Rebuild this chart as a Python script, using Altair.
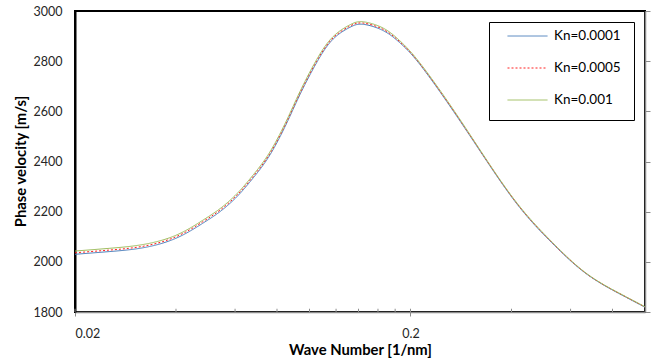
import altair as alt
import pandas as pd

# Wave number [1/nm]
wave_number = [0.02, 0.0254, 0.0319, 0.04, 0.0481, 0.0541, 0.0608, 0.0678, 0.0762,
               0.0856, 0.0936, 0.105, 0.1176, 0.132, 0.1445, 0.1657, 0.186, 0.213,
               0.268, 0.337, 0.423, 0.532, 0.669, 0.841, 1.0]

# Phase velocity [m/s]
kn_0001 = [2030, 2041, 2056, 2094, 2154, 2200, 2260, 2333, 2426, 2554, 2666, 2794, 2888,
           2935, 2947, 2922, 2873, 2788, 2602, 2403, 2217, 2071, 1952, 1872, 1819]
kn_0005 = [2036, 2047, 2062, 2100, 2160, 2206, 2266, 2339, 2432, 2560, 2672, 2800, 2893,
           2940, 2952, 2927, 2877, 2791, 2605, 2405, 2219, 2073, 1953, 1873, 1820]
kn_001 = [2043, 2054, 2069, 2106, 2166, 2212, 2272, 2345, 2438, 2566, 2678, 2806, 2898,
          2945, 2957, 2932, 2881, 2794, 2608, 2407, 2221, 2075, 1954, 1874, 1821]

series_names = ["Kn=0.0001", "Kn=0.0005", "Kn=0.001"]
series_colors = ["#4A7EBB", "#FF2020", "#9BBB59"]
series_dash = [[1, 0], [2, 2], [1, 0]]

minor_ticks = [0.02, 0.04, 0.06, 0.08, 0.1, 0.12, 0.14, 0.16, 0.18, 0.2, 0.4, 0.6, 0.8]
y_ticks = [1800, 2000, 2200, 2400, 2600, 2800, 3000]

rows = []
for name, vals in zip(series_names, [kn_0001, kn_0005, kn_001]):
    for k, v in zip(wave_number, vals):
        rows.append({"k": k, "v": v, "series": name})
df = pd.DataFrame(rows)
ticks_df = pd.DataFrame({"t": minor_ticks})

FONT = "Lato"

x_scale = alt.Scale(type="log", domain=[0.02, 1.0], nice=False)
y_scale = alt.Scale(domain=[1800, 3000], nice=False)

x_axis = alt.Axis(
    values=[0.02, 0.2], format="~g", title="Wave Number [1/nm]",
    titleFont=FONT, titleFontSize=14.8, titleFontWeight="bold", titleColor="#000000",
    titleY=38, titleBaseline="middle",
    labelFont=FONT, labelFontSize=12.5, labelColor="#262626", labelPadding=11,
    tickSize=4, tickColor="#8C8C8C", domainColor="#8C8C8C", domainWidth=1.5,
    grid=False,
)

legend_def = alt.Legend(
    title=None, orient="none", legendX=414, legendY=11,
    symbolType="stroke", symbolSize=1600, symbolStrokeWidth=1, symbolOffset=5,
    clipHeight=2, rowPadding=18, padding=13, labelOffset=6,
    labelFont=FONT, labelFontSize=13.5, labelColor="#000000",
    strokeColor="#000000", fillColor="#FFFFFF",
)

lines = alt.Chart(df).mark_line(strokeWidth=1, interpolate="natural").encode(
    x=alt.X("k:Q", scale=x_scale, axis=x_axis),
    y=alt.Y("v:Q", scale=y_scale, axis=alt.Axis(
        values=y_ticks, format="d", title="Phase velocity [m/s]",
        titleFont=FONT, titleFontSize=14.8, titleFontWeight="bold", titleColor="#000000",
        titleAngle=-90, titleX=-54, titleY=150, titleAlign="center", titleBaseline="middle",
        labelFont=FONT, labelFontSize=12.5, labelColor="#262626",
        ticks=False, tickSize=0, labelPadding=13,
        domainColor="#000000", domainWidth=2, grid=False,
    )),
    color=alt.Color("series:N", scale=alt.Scale(domain=series_names, range=series_colors),
                    legend=legend_def),
    strokeDash=alt.StrokeDash("series:N", scale=alt.Scale(domain=series_names, range=series_dash),
                              legend=legend_def),
    order=alt.Order("series:N"),
)

tick_rules = alt.Chart(ticks_df).mark_rule(color="#8C8C8C", strokeWidth=1).encode(
    x=alt.X("t:Q", scale=x_scale, axis=x_axis),
    y=alt.Y(datum=1800, scale=y_scale, axis=alt.Axis(
        orient="right", values=y_ticks, labels=False, title=None, tickSize=5,
        tickColor="#8C8C8C", domainColor="#8C8C8C", domainWidth=1.5, grid=False,
    )),
    y2=alt.Y2(datum=1813),
)

chart = alt.layer(lines, tick_rules).resolve_axis(y="independent").properties(
    width=570, height=301,
    autosize=alt.AutoSizeParams(type="none"),
    padding={"left": 75, "top": 11, "right": 6, "bottom": 50},
    background="#FFFFFF",
).configure_view(stroke="#000000", strokeWidth=2)

chart.save("out.html", embed_options={"renderer": "svg", "actions": False})
